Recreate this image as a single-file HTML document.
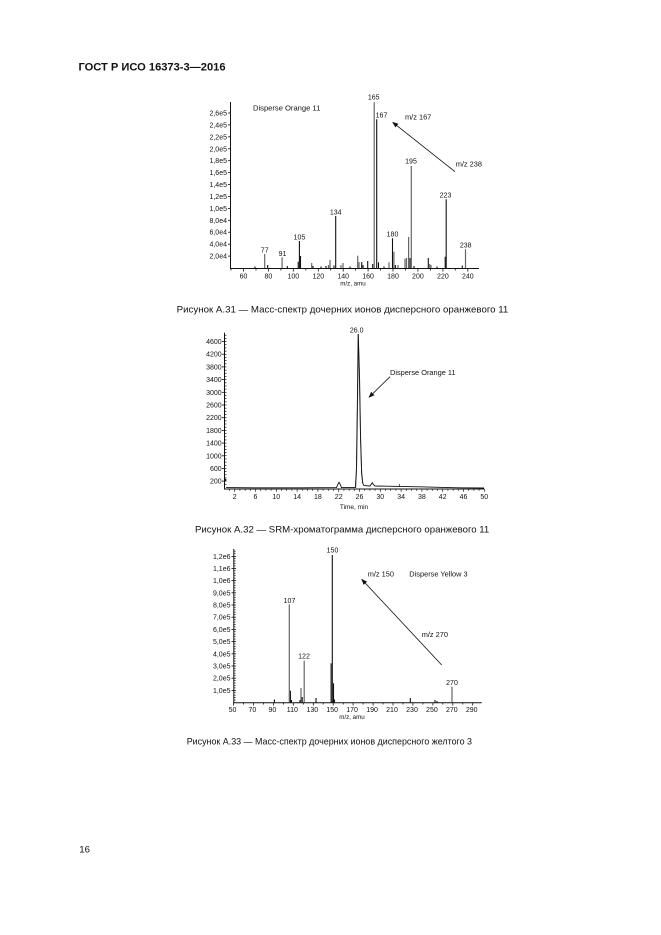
<!DOCTYPE html>
<html><head><meta charset="utf-8"><style>
html,body{margin:0;padding:0;background:#fff;}
svg{display:block;}
text{font-family:"Liberation Sans","Noto Sans CJK SC",sans-serif;fill:#111;}
.t{font-size:7px;}
.a{font-size:7.4px;}
</style></head><body>
<svg width="661" height="935" viewBox="0 0 661 935" xmlns="http://www.w3.org/2000/svg">
<defs>
<marker id="ah" viewBox="0 0 10 10" refX="9" refY="5" markerWidth="6" markerHeight="6" orient="auto" markerUnits="userSpaceOnUse">
<path d="M0,1 L10,5 L0,9 z" fill="#111"/>
</marker>
</defs>
<rect width="661" height="935" fill="#fff"/>

<text x="78.5" y="70.5" style="font-size:11px;font-weight:bold" textLength="147" lengthAdjust="spacingAndGlyphs">ГОСТ Р ИСО 16373-3—2016</text>

<!-- ================= CHART 1 ================= -->
<g stroke="#111" stroke-width="1" fill="none">
<line x1="230.5" y1="102" x2="230.5" y2="268.5"/>
<line x1="230" y1="268.5" x2="479" y2="268.5"/>
</g>
<g stroke="#111" stroke-width="0.8">
<line x1="228" y1="113" x2="230.5" y2="113"/>
<line x1="228" y1="124.9" x2="230.5" y2="124.9"/>
<line x1="228" y1="136.8" x2="230.5" y2="136.8"/>
<line x1="228" y1="148.8" x2="230.5" y2="148.8"/>
<line x1="228" y1="160.7" x2="230.5" y2="160.7"/>
<line x1="228" y1="172.6" x2="230.5" y2="172.6"/>
<line x1="228" y1="184.6" x2="230.5" y2="184.6"/>
<line x1="228" y1="196.5" x2="230.5" y2="196.5"/>
<line x1="228" y1="208.4" x2="230.5" y2="208.4"/>
<line x1="228" y1="220.3" x2="230.5" y2="220.3"/>
<line x1="228" y1="232.2" x2="230.5" y2="232.2"/>
<line x1="228" y1="244.2" x2="230.5" y2="244.2"/>
<line x1="228" y1="256.1" x2="230.5" y2="256.1"/>
</g>
<g class="t" text-anchor="end">
<text x="227" y="115.5">2,6e5</text>
<text x="227" y="127.4">2,4e5</text>
<text x="227" y="139.3">2,2e5</text>
<text x="227" y="151.3">2,0e5</text>
<text x="227" y="163.2">1,8e5</text>
<text x="227" y="175.1">1,6e5</text>
<text x="227" y="187.1">1,4e5</text>
<text x="227" y="199">1,2e5</text>
<text x="227" y="210.9">1,0e5</text>
<text x="227" y="222.8">8,0e4</text>
<text x="227" y="234.7">6,0e4</text>
<text x="227" y="246.7">4,0e4</text>
<text x="227" y="258.6">2,0e4</text>
</g>
<g stroke="#111" stroke-width="0.8">
<line x1="231.0" y1="268.5" x2="231.0" y2="270.5"/>
<line x1="243.5" y1="268.5" x2="243.5" y2="271.5"/>
<line x1="256.0" y1="268.5" x2="256.0" y2="270.5"/>
<line x1="268.4" y1="268.5" x2="268.4" y2="271.5"/>
<line x1="280.9" y1="268.5" x2="280.9" y2="270.5"/>
<line x1="293.3" y1="268.5" x2="293.3" y2="271.5"/>
<line x1="305.8" y1="268.5" x2="305.8" y2="270.5"/>
<line x1="318.3" y1="268.5" x2="318.3" y2="271.5"/>
<line x1="330.7" y1="268.5" x2="330.7" y2="270.5"/>
<line x1="343.2" y1="268.5" x2="343.2" y2="271.5"/>
<line x1="355.6" y1="268.5" x2="355.6" y2="270.5"/>
<line x1="368.1" y1="268.5" x2="368.1" y2="271.5"/>
<line x1="380.6" y1="268.5" x2="380.6" y2="270.5"/>
<line x1="393.0" y1="268.5" x2="393.0" y2="271.5"/>
<line x1="405.5" y1="268.5" x2="405.5" y2="270.5"/>
<line x1="417.9" y1="268.5" x2="417.9" y2="271.5"/>
<line x1="430.4" y1="268.5" x2="430.4" y2="270.5"/>
<line x1="442.9" y1="268.5" x2="442.9" y2="271.5"/>
<line x1="455.3" y1="268.5" x2="455.3" y2="270.5"/>
<line x1="467.8" y1="268.5" x2="467.8" y2="271.5"/>
</g>
<g class="t" text-anchor="middle">
<text x="243.5" y="278.3">60</text>
<text x="268.4" y="278.3">80</text>
<text x="293.3" y="278.3">100</text>
<text x="318.3" y="278.3">120</text>
<text x="343.2" y="278.3">140</text>
<text x="368.1" y="278.3">160</text>
<text x="393.0" y="278.3">180</text>
<text x="417.9" y="278.3">200</text>
<text x="442.9" y="278.3">220</text>
<text x="467.8" y="278.3">240</text>
</g>
<text x="353" y="285.5" text-anchor="middle" style="font-size:6.2px">m/z, amu</text>
<g stroke="#666" stroke-width="1.2">
<line x1="264.7" y1="268" x2="264.7" y2="254"/>
<line x1="282.1" y1="268" x2="282.1" y2="257.3"/>
<line x1="311.7" y1="268" x2="311.7" y2="263"/>
<line x1="328.5" y1="268" x2="328.5" y2="265"/>
<line x1="330" y1="268" x2="330" y2="260"/>
<line x1="341" y1="268" x2="341" y2="265"/>
<line x1="343" y1="268" x2="343" y2="263"/>
<line x1="357.7" y1="268" x2="357.7" y2="255.7"/>
<line x1="359" y1="268" x2="359" y2="262"/>
<line x1="374.2" y1="268" x2="374.2" y2="102.3"/>
<line x1="389" y1="268" x2="389" y2="262.3"/>
<line x1="393.9" y1="268" x2="393.9" y2="251.7"/>
<line x1="405" y1="268" x2="405" y2="258.7"/>
<line x1="406.5" y1="268" x2="406.5" y2="258"/>
<line x1="408.6" y1="268" x2="408.6" y2="237"/>
<line x1="411.3" y1="268" x2="411.3" y2="166"/>
<line x1="429.7" y1="268" x2="429.7" y2="264"/>
<line x1="431" y1="268" x2="431" y2="265"/>
<line x1="465.5" y1="268" x2="465.5" y2="249.3"/>
<line x1="398" y1="268" x2="398" y2="265"/>
</g>
<g stroke="#111" stroke-width="1.1">
<line x1="267.7" y1="268" x2="267.7" y2="265"/>
<line x1="287.3" y1="268" x2="287.3" y2="266"/>
<line x1="298.2" y1="268" x2="298.2" y2="261.7"/>
<line x1="299.4" y1="268" x2="299.4" y2="241"/>
<line x1="300.5" y1="268" x2="300.5" y2="256"/>
<line x1="313" y1="268" x2="313" y2="266"/>
<line x1="326" y1="268" x2="326" y2="266"/>
<line x1="334" y1="268" x2="334" y2="265.5"/>
<line x1="335.7" y1="268" x2="335.7" y2="216"/>
<line x1="361.7" y1="268" x2="361.7" y2="262"/>
<line x1="363" y1="268" x2="363" y2="265"/>
<line x1="367.7" y1="268" x2="367.7" y2="261"/>
<line x1="372.7" y1="268" x2="372.7" y2="264"/>
<line x1="376.7" y1="268" x2="376.7" y2="119.3"/>
<line x1="378.5" y1="268" x2="378.5" y2="262.3"/>
<line x1="392.5" y1="268" x2="392.5" y2="238.3"/>
<line x1="395.4" y1="268" x2="395.4" y2="265"/>
<line x1="410" y1="268" x2="410" y2="258"/>
<line x1="414" y1="268" x2="414" y2="266"/>
<line x1="428.3" y1="268" x2="428.3" y2="258"/>
<line x1="445.2" y1="268" x2="445.2" y2="256.7"/>
<line x1="446.2" y1="268" x2="446.2" y2="199.3"/>
<line x1="462.3" y1="268" x2="462.3" y2="265.5"/>
<line x1="255" y1="268" x2="255" y2="266.5"/>
<line x1="321" y1="268" x2="321" y2="266.5"/>
<line x1="350" y1="268" x2="350" y2="266.5"/>
<line x1="384" y1="268" x2="384" y2="266.5"/>
<line x1="437" y1="268" x2="437" y2="266.5"/>
</g>
<g class="t" text-anchor="middle">
<text x="264.7" y="252.5">77</text>
<text x="282.5" y="255.8">91</text>
<text x="299.4" y="239.5">105</text>
<text x="335.7" y="214.5">134</text>
<text x="373.7" y="99.3">165</text>
<text x="381.5" y="117.6">167</text>
<text x="392.5" y="236.6">180</text>
<text x="411" y="163.5">195</text>
<text x="445.5" y="197.6">223</text>
<text x="465.7" y="247.6">238</text>
</g>
<text x="253" y="110.5" class="a" textLength="67.3" lengthAdjust="spacingAndGlyphs">Disperse Orange 11</text>
<text x="405" y="119.4" class="a">m/z 167</text>
<text x="455.7" y="166.7" class="a">m/z 238</text>
<line x1="455" y1="171.7" x2="392.7" y2="122.3" stroke="#111" stroke-width="0.8" marker-end="url(#ah)"/>

<text x="176.7" y="312.6" style="font-size:9.5px" textLength="331.6" lengthAdjust="spacingAndGlyphs">Рисунок А.31 — Масс-спектр дочерних ионов дисперсного оранжевого 11</text>

<!-- ================= CHART 2 ================= -->
<g stroke="#111" stroke-width="1" fill="none">
<line x1="224.5" y1="332.7" x2="224.5" y2="489"/>
<line x1="224" y1="489" x2="484.5" y2="489"/>
</g>
<g stroke="#111" stroke-width="0.7">
<line x1="224.5" y1="484.3" x2="226.5" y2="484.3"/>
<line x1="224.5" y1="481.1" x2="226.5" y2="481.1"/>
<line x1="224.5" y1="477.9" x2="226.5" y2="477.9"/>
<line x1="224.5" y1="474.8" x2="226.5" y2="474.8"/>
<line x1="224.5" y1="471.6" x2="226.5" y2="471.6"/>
<line x1="224.5" y1="468.4" x2="226.5" y2="468.4"/>
<line x1="224.5" y1="465.3" x2="226.5" y2="465.3"/>
<line x1="224.5" y1="462.1" x2="226.5" y2="462.1"/>
<line x1="224.5" y1="458.9" x2="226.5" y2="458.9"/>
<line x1="224.5" y1="455.7" x2="226.5" y2="455.7"/>
<line x1="224.5" y1="452.6" x2="226.5" y2="452.6"/>
<line x1="224.5" y1="449.4" x2="226.5" y2="449.4"/>
<line x1="224.5" y1="446.2" x2="226.5" y2="446.2"/>
<line x1="224.5" y1="443.1" x2="226.5" y2="443.1"/>
<line x1="224.5" y1="439.9" x2="226.5" y2="439.9"/>
<line x1="224.5" y1="436.7" x2="226.5" y2="436.7"/>
<line x1="224.5" y1="433.5" x2="226.5" y2="433.5"/>
<line x1="224.5" y1="430.4" x2="226.5" y2="430.4"/>
<line x1="224.5" y1="427.2" x2="226.5" y2="427.2"/>
<line x1="224.5" y1="424.0" x2="226.5" y2="424.0"/>
<line x1="224.5" y1="420.9" x2="226.5" y2="420.9"/>
<line x1="224.5" y1="417.7" x2="226.5" y2="417.7"/>
<line x1="224.5" y1="414.5" x2="226.5" y2="414.5"/>
<line x1="224.5" y1="411.3" x2="226.5" y2="411.3"/>
<line x1="224.5" y1="408.2" x2="226.5" y2="408.2"/>
<line x1="224.5" y1="405.0" x2="226.5" y2="405.0"/>
<line x1="224.5" y1="401.8" x2="226.5" y2="401.8"/>
<line x1="224.5" y1="398.7" x2="226.5" y2="398.7"/>
<line x1="224.5" y1="395.5" x2="226.5" y2="395.5"/>
<line x1="224.5" y1="392.3" x2="226.5" y2="392.3"/>
<line x1="224.5" y1="389.1" x2="226.5" y2="389.1"/>
<line x1="224.5" y1="386.0" x2="226.5" y2="386.0"/>
<line x1="224.5" y1="382.8" x2="226.5" y2="382.8"/>
<line x1="224.5" y1="379.6" x2="226.5" y2="379.6"/>
<line x1="224.5" y1="376.5" x2="226.5" y2="376.5"/>
<line x1="224.5" y1="373.3" x2="226.5" y2="373.3"/>
<line x1="224.5" y1="370.1" x2="226.5" y2="370.1"/>
<line x1="224.5" y1="366.9" x2="226.5" y2="366.9"/>
<line x1="224.5" y1="363.8" x2="226.5" y2="363.8"/>
<line x1="224.5" y1="360.6" x2="226.5" y2="360.6"/>
<line x1="224.5" y1="357.4" x2="226.5" y2="357.4"/>
<line x1="224.5" y1="354.3" x2="226.5" y2="354.3"/>
<line x1="224.5" y1="351.1" x2="226.5" y2="351.1"/>
<line x1="224.5" y1="347.9" x2="226.5" y2="347.9"/>
<line x1="224.5" y1="344.7" x2="226.5" y2="344.7"/>
<line x1="224.5" y1="341.5" x2="226.5" y2="341.5"/>
<line x1="224.5" y1="338.4" x2="226.5" y2="338.4"/>
<line x1="224.5" y1="335.2" x2="226.5" y2="335.2"/>
</g>
<g stroke="#111" stroke-width="0.8">
<line x1="222" y1="341.5" x2="224.5" y2="341.5"/>
<line x1="222" y1="354.2" x2="224.5" y2="354.2"/>
<line x1="222" y1="366.9" x2="224.5" y2="366.9"/>
<line x1="222" y1="379.6" x2="224.5" y2="379.6"/>
<line x1="222" y1="392.3" x2="224.5" y2="392.3"/>
<line x1="222" y1="405.0" x2="224.5" y2="405.0"/>
<line x1="222" y1="417.7" x2="224.5" y2="417.7"/>
<line x1="222" y1="430.4" x2="224.5" y2="430.4"/>
<line x1="222" y1="443.1" x2="224.5" y2="443.1"/>
<line x1="222" y1="455.8" x2="224.5" y2="455.8"/>
<line x1="222" y1="468.4" x2="224.5" y2="468.4"/>
<line x1="222" y1="481.1" x2="224.5" y2="481.1"/>
</g>
<g class="t" text-anchor="end">
<text x="221.7" y="344">4600</text>
<text x="221.7" y="356.7">4200</text>
<text x="221.7" y="369.4">3800</text>
<text x="221.7" y="382.1">3400</text>
<text x="221.7" y="394.8">3000</text>
<text x="221.7" y="407.5">2600</text>
<text x="221.7" y="420.2">2200</text>
<text x="221.7" y="432.9">1800</text>
<text x="221.7" y="445.6">1400</text>
<text x="221.7" y="458.3">1000</text>
<text x="221.7" y="470.9">600</text>
<text x="221.7" y="483.6">200</text>
</g>
<rect x="224" y="478.8" width="2.3" height="2.6" fill="#111"/>
<g stroke="#111" stroke-width="0.7">
<line x1="229.5" y1="489" x2="229.5" y2="490.8"/><line x1="234.7" y1="489" x2="234.7" y2="491.8"/>
<line x1="239.9" y1="489" x2="239.9" y2="490.8"/><line x1="245.1" y1="489" x2="245.1" y2="490.8"/>
<line x1="250.3" y1="489" x2="250.3" y2="490.8"/><line x1="255.5" y1="489" x2="255.5" y2="491.8"/>
<line x1="260.7" y1="489" x2="260.7" y2="490.8"/><line x1="265.9" y1="489" x2="265.9" y2="490.8"/>
<line x1="271.1" y1="489" x2="271.1" y2="490.8"/><line x1="276.3" y1="489" x2="276.3" y2="491.8"/>
<line x1="281.5" y1="489" x2="281.5" y2="490.8"/><line x1="286.7" y1="489" x2="286.7" y2="490.8"/>
<line x1="291.9" y1="489" x2="291.9" y2="490.8"/><line x1="297.1" y1="489" x2="297.1" y2="491.8"/>
<line x1="302.3" y1="489" x2="302.3" y2="490.8"/><line x1="307.5" y1="489" x2="307.5" y2="490.8"/>
<line x1="312.7" y1="489" x2="312.7" y2="490.8"/><line x1="317.9" y1="489" x2="317.9" y2="491.8"/>
<line x1="323.1" y1="489" x2="323.1" y2="490.8"/><line x1="328.3" y1="489" x2="328.3" y2="490.8"/>
<line x1="333.5" y1="489" x2="333.5" y2="490.8"/><line x1="338.7" y1="489" x2="338.7" y2="491.8"/>
<line x1="343.9" y1="489" x2="343.9" y2="490.8"/><line x1="349.1" y1="489" x2="349.1" y2="490.8"/>
<line x1="354.3" y1="489" x2="354.3" y2="490.8"/><line x1="359.5" y1="489" x2="359.5" y2="491.8"/>
<line x1="364.7" y1="489" x2="364.7" y2="490.8"/><line x1="369.9" y1="489" x2="369.9" y2="490.8"/>
<line x1="375.1" y1="489" x2="375.1" y2="490.8"/><line x1="380.3" y1="489" x2="380.3" y2="491.8"/>
<line x1="385.5" y1="489" x2="385.5" y2="490.8"/><line x1="390.7" y1="489" x2="390.7" y2="490.8"/>
<line x1="395.9" y1="489" x2="395.9" y2="490.8"/><line x1="401.1" y1="489" x2="401.1" y2="491.8"/>
<line x1="406.3" y1="489" x2="406.3" y2="490.8"/><line x1="411.5" y1="489" x2="411.5" y2="490.8"/>
<line x1="416.7" y1="489" x2="416.7" y2="490.8"/><line x1="421.9" y1="489" x2="421.9" y2="491.8"/>
<line x1="427.1" y1="489" x2="427.1" y2="490.8"/><line x1="432.3" y1="489" x2="432.3" y2="490.8"/>
<line x1="437.5" y1="489" x2="437.5" y2="490.8"/><line x1="442.7" y1="489" x2="442.7" y2="491.8"/>
<line x1="447.9" y1="489" x2="447.9" y2="490.8"/><line x1="453.1" y1="489" x2="453.1" y2="490.8"/>
<line x1="458.3" y1="489" x2="458.3" y2="490.8"/><line x1="463.5" y1="489" x2="463.5" y2="491.8"/>
<line x1="468.7" y1="489" x2="468.7" y2="490.8"/><line x1="473.9" y1="489" x2="473.9" y2="490.8"/>
<line x1="479.1" y1="489" x2="479.1" y2="490.8"/><line x1="484.3" y1="489" x2="484.3" y2="491.8"/>
</g>
<g class="t" text-anchor="middle">
<text x="234.7" y="499.2">2</text>
<text x="255.5" y="499.2">6</text>
<text x="276.3" y="499.2">10</text>
<text x="297.1" y="499.2">14</text>
<text x="317.9" y="499.2">18</text>
<text x="338.7" y="499.2">22</text>
<text x="359.5" y="499.2">26</text>
<text x="380.3" y="499.2">30</text>
<text x="401.1" y="499.2">34</text>
<text x="421.9" y="499.2">38</text>
<text x="442.7" y="499.2">42</text>
<text x="463.5" y="499.2">46</text>
<text x="484.3" y="499.2">50</text>
</g>
<text x="354" y="509" text-anchor="middle" style="font-size:6.5px">Time, min</text>
<polyline fill="none" stroke="#888" stroke-width="1" points="355.8,487.5 356.8,460 357.6,400 358.0,334 359.2,370 360.4,430 361.6,470 362.8,483"/>
<polyline fill="none" stroke="#111" stroke-width="0.9" points="226,487.6 260,487.8 300,487.8 336.5,487.6 338,484.2 339,482.3 340,484 341.5,487.5 355.4,487.6 356.4,470 357.4,400 358.3,334 359.6,380 360.6,440 361.6,473 362.6,483 364,485.6 370,486 371.4,484 372.3,482.7 373.3,484.5 375,486 399,486.4 420,486.8 443,487.4 460,487.8 484,488"/>
<line x1="399.3" y1="484" x2="399.3" y2="487" stroke="#111" stroke-width="0.7"/>
<text x="356.7" y="332.6" text-anchor="middle" class="t">26.0</text>
<text x="390" y="375" class="a">Disperse Orange 11</text>
<line x1="390" y1="376.7" x2="369" y2="397.3" stroke="#111" stroke-width="0.8" marker-end="url(#ah)"/>

<text x="195" y="532.6" style="font-size:9.5px" textLength="294.3" lengthAdjust="spacingAndGlyphs">Рисунок А.32 — SRM-хроматограмма дисперсного оранжевого 11</text>

<!-- ================= CHART 3 ================= -->
<g stroke="#111" stroke-width="1" fill="none">
<line x1="233.8" y1="549" x2="233.8" y2="702.8"/>
<line x1="233.3" y1="702.8" x2="481.7" y2="702.8"/>
</g>
<g stroke="#111" stroke-width="0.7">
<line x1="233.8" y1="700.1" x2="235.6" y2="700.1"/><line x1="233.8" y1="697.6" x2="235.6" y2="697.6"/>
<line x1="233.8" y1="695.2" x2="235.6" y2="695.2"/><line x1="233.8" y1="692.7" x2="235.6" y2="692.7"/>
<line x1="233.8" y1="687.9" x2="235.6" y2="687.9"/><line x1="233.8" y1="685.4" x2="235.6" y2="685.4"/>
<line x1="233.8" y1="683.0" x2="235.6" y2="683.0"/><line x1="233.8" y1="680.5" x2="235.6" y2="680.5"/>
<line x1="233.8" y1="675.7" x2="235.6" y2="675.7"/><line x1="233.8" y1="673.2" x2="235.6" y2="673.2"/>
<line x1="233.8" y1="670.8" x2="235.6" y2="670.8"/><line x1="233.8" y1="668.3" x2="235.6" y2="668.3"/>
<line x1="233.8" y1="663.5" x2="235.6" y2="663.5"/><line x1="233.8" y1="661.0" x2="235.6" y2="661.0"/>
<line x1="233.8" y1="658.6" x2="235.6" y2="658.6"/><line x1="233.8" y1="656.1" x2="235.6" y2="656.1"/>
<line x1="233.8" y1="651.3" x2="235.6" y2="651.3"/><line x1="233.8" y1="648.8" x2="235.6" y2="648.8"/>
<line x1="233.8" y1="646.4" x2="235.6" y2="646.4"/><line x1="233.8" y1="643.9" x2="235.6" y2="643.9"/>
<line x1="233.8" y1="639.1" x2="235.6" y2="639.1"/><line x1="233.8" y1="636.6" x2="235.6" y2="636.6"/>
<line x1="233.8" y1="634.2" x2="235.6" y2="634.2"/><line x1="233.8" y1="631.7" x2="235.6" y2="631.7"/>
<line x1="233.8" y1="626.9" x2="235.6" y2="626.9"/><line x1="233.8" y1="624.4" x2="235.6" y2="624.4"/>
<line x1="233.8" y1="622.0" x2="235.6" y2="622.0"/><line x1="233.8" y1="619.5" x2="235.6" y2="619.5"/>
<line x1="233.8" y1="614.7" x2="235.6" y2="614.7"/><line x1="233.8" y1="612.2" x2="235.6" y2="612.2"/>
<line x1="233.8" y1="609.8" x2="235.6" y2="609.8"/><line x1="233.8" y1="607.3" x2="235.6" y2="607.3"/>
<line x1="233.8" y1="602.5" x2="235.6" y2="602.5"/><line x1="233.8" y1="600.0" x2="235.6" y2="600.0"/>
<line x1="233.8" y1="597.6" x2="235.6" y2="597.6"/><line x1="233.8" y1="595.1" x2="235.6" y2="595.1"/>
<line x1="233.8" y1="590.3" x2="235.6" y2="590.3"/><line x1="233.8" y1="587.8" x2="235.6" y2="587.8"/>
<line x1="233.8" y1="585.4" x2="235.6" y2="585.4"/><line x1="233.8" y1="582.9" x2="235.6" y2="582.9"/>
<line x1="233.8" y1="578.1" x2="235.6" y2="578.1"/><line x1="233.8" y1="575.6" x2="235.6" y2="575.6"/>
<line x1="233.8" y1="573.2" x2="235.6" y2="573.2"/><line x1="233.8" y1="570.7" x2="235.6" y2="570.7"/>
<line x1="233.8" y1="565.9" x2="235.6" y2="565.9"/><line x1="233.8" y1="563.4" x2="235.6" y2="563.4"/>
<line x1="233.8" y1="561.0" x2="235.6" y2="561.0"/><line x1="233.8" y1="558.5" x2="235.6" y2="558.5"/>
<line x1="233.8" y1="553.7" x2="235.6" y2="553.7"/><line x1="233.8" y1="551.2" x2="235.6" y2="551.2"/>
</g>
<g stroke="#111" stroke-width="0.8">
<line x1="231.5" y1="556.4" x2="236" y2="556.4"/>
<line x1="231.5" y1="568.6" x2="236" y2="568.6"/>
<line x1="231.5" y1="580.6" x2="236" y2="580.6"/>
<line x1="231.5" y1="592.8" x2="236" y2="592.8"/>
<line x1="231.5" y1="605.0" x2="236" y2="605.0"/>
<line x1="231.5" y1="617.2" x2="236" y2="617.2"/>
<line x1="231.5" y1="629.4" x2="236" y2="629.4"/>
<line x1="231.5" y1="641.6" x2="236" y2="641.6"/>
<line x1="231.5" y1="653.8" x2="236" y2="653.8"/>
<line x1="231.5" y1="666.0" x2="236" y2="666.0"/>
<line x1="231.5" y1="678.2" x2="236" y2="678.2"/>
<line x1="231.5" y1="690.4" x2="236" y2="690.4"/>
</g>
<g class="t" text-anchor="end">
<text x="230.5" y="558.9">1,2e6</text>
<text x="230.5" y="571.1">1,1e6</text>
<text x="230.5" y="583.1">1,0e6</text>
<text x="230.5" y="595.3">9,0e5</text>
<text x="230.5" y="607.5">8,0e5</text>
<text x="230.5" y="619.7">7,0e5</text>
<text x="230.5" y="631.9">6,0e5</text>
<text x="230.5" y="644.1">5,0e5</text>
<text x="230.5" y="656.3">4,0e5</text>
<text x="230.5" y="668.5">3,0e5</text>
<text x="230.5" y="680.7">2,0e5</text>
<text x="230.5" y="692.9">1,0e5</text>
</g>
<g stroke="#111" stroke-width="0.8">
<line x1="233.5" y1="702.8" x2="233.5" y2="705.5"/>
<line x1="243.5" y1="702.8" x2="243.5" y2="704.5"/>
<line x1="253.4" y1="702.8" x2="253.4" y2="705.5"/>
<line x1="263.4" y1="702.8" x2="263.4" y2="704.5"/>
<line x1="273.4" y1="702.8" x2="273.4" y2="705.5"/>
<line x1="283.4" y1="702.8" x2="283.4" y2="704.5"/>
<line x1="293.3" y1="702.8" x2="293.3" y2="705.5"/>
<line x1="303.3" y1="702.8" x2="303.3" y2="704.5"/>
<line x1="313.3" y1="702.8" x2="313.3" y2="705.5"/>
<line x1="323.2" y1="702.8" x2="323.2" y2="704.5"/>
<line x1="333.2" y1="702.8" x2="333.2" y2="705.5"/>
<line x1="343.2" y1="702.8" x2="343.2" y2="704.5"/>
<line x1="353.1" y1="702.8" x2="353.1" y2="705.5"/>
<line x1="363.1" y1="702.8" x2="363.1" y2="704.5"/>
<line x1="373.1" y1="702.8" x2="373.1" y2="705.5"/>
<line x1="383.0" y1="702.8" x2="383.0" y2="704.5"/>
<line x1="393.0" y1="702.8" x2="393.0" y2="705.5"/>
<line x1="403.0" y1="702.8" x2="403.0" y2="704.5"/>
<line x1="412.9" y1="702.8" x2="412.9" y2="705.5"/>
<line x1="422.9" y1="702.8" x2="422.9" y2="704.5"/>
<line x1="432.9" y1="702.8" x2="432.9" y2="705.5"/>
<line x1="442.8" y1="702.8" x2="442.8" y2="704.5"/>
<line x1="452.8" y1="702.8" x2="452.8" y2="705.5"/>
<line x1="462.8" y1="702.8" x2="462.8" y2="704.5"/>
<line x1="472.7" y1="702.8" x2="472.7" y2="705.5"/>
</g>
<g class="t" text-anchor="middle">
<text x="232.5" y="712">50</text>
<text x="252.4" y="712">70</text>
<text x="272.4" y="712">90</text>
<text x="292.3" y="712">110</text>
<text x="312.3" y="712">130</text>
<text x="332.2" y="712">150</text>
<text x="352.1" y="712">170</text>
<text x="372.1" y="712">190</text>
<text x="392.0" y="712">210</text>
<text x="412.0" y="712">230</text>
<text x="431.9" y="712">250</text>
<text x="451.8" y="712">270</text>
<text x="471.7" y="712">290</text>
</g>
<text x="352" y="719" text-anchor="middle" style="font-size:6.2px">m/z, amu</text>
<g stroke="#666" stroke-width="1.2">
<line x1="289.3" y1="702.5" x2="289.3" y2="604.3"/>
<line x1="301" y1="702.5" x2="301" y2="688"/>
<line x1="304.2" y1="702.5" x2="304.2" y2="660.7"/>
<line x1="452" y1="702.5" x2="452" y2="686.7"/>
</g>
<g stroke="#111" stroke-width="1.1">
<line x1="274.4" y1="702.5" x2="274.4" y2="699.5"/>
<line x1="290.4" y1="702.5" x2="290.4" y2="690.7"/>
<line x1="291.5" y1="702.5" x2="291.5" y2="700"/>
<line x1="300" y1="702.5" x2="300" y2="700"/>
<line x1="302.2" y1="702.5" x2="302.2" y2="697"/>
<line x1="316" y1="702.5" x2="316" y2="698"/>
<line x1="331.1" y1="702.5" x2="331.1" y2="663.3"/>
<line x1="332.3" y1="702.5" x2="332.3" y2="555"/>
<line x1="333.5" y1="702.5" x2="333.5" y2="683.3"/>
<line x1="334.5" y1="702.5" x2="334.5" y2="699.5"/>
<line x1="410.3" y1="702.5" x2="410.3" y2="698"/>
<line x1="435" y1="702.5" x2="435" y2="700"/>
<line x1="437" y1="702.5" x2="437" y2="701"/>
</g>
<g class="t" text-anchor="middle">
<text x="332.5" y="552.5">150</text>
<text x="289.5" y="603">107</text>
<text x="304" y="658.4">122</text>
<text x="452" y="685">270</text>
</g>
<text x="367.7" y="576.6" class="a">m/z 150</text>
<text x="409.3" y="576.6" class="a">Disperse Yellow 3</text>
<text x="421.7" y="636.9" class="a">m/z 270</text>
<line x1="441.7" y1="665" x2="361.7" y2="579.3" stroke="#111" stroke-width="0.8" marker-end="url(#ah)"/>

<text x="186.7" y="744.6" style="font-size:9.5px" textLength="285.3" lengthAdjust="spacingAndGlyphs">Рисунок А.33 — Масс-спектр дочерних ионов дисперсного желтого 3</text>

<text x="79.3" y="852.4" style="font-size:9.6px">16</text>
</svg>
</body></html>
